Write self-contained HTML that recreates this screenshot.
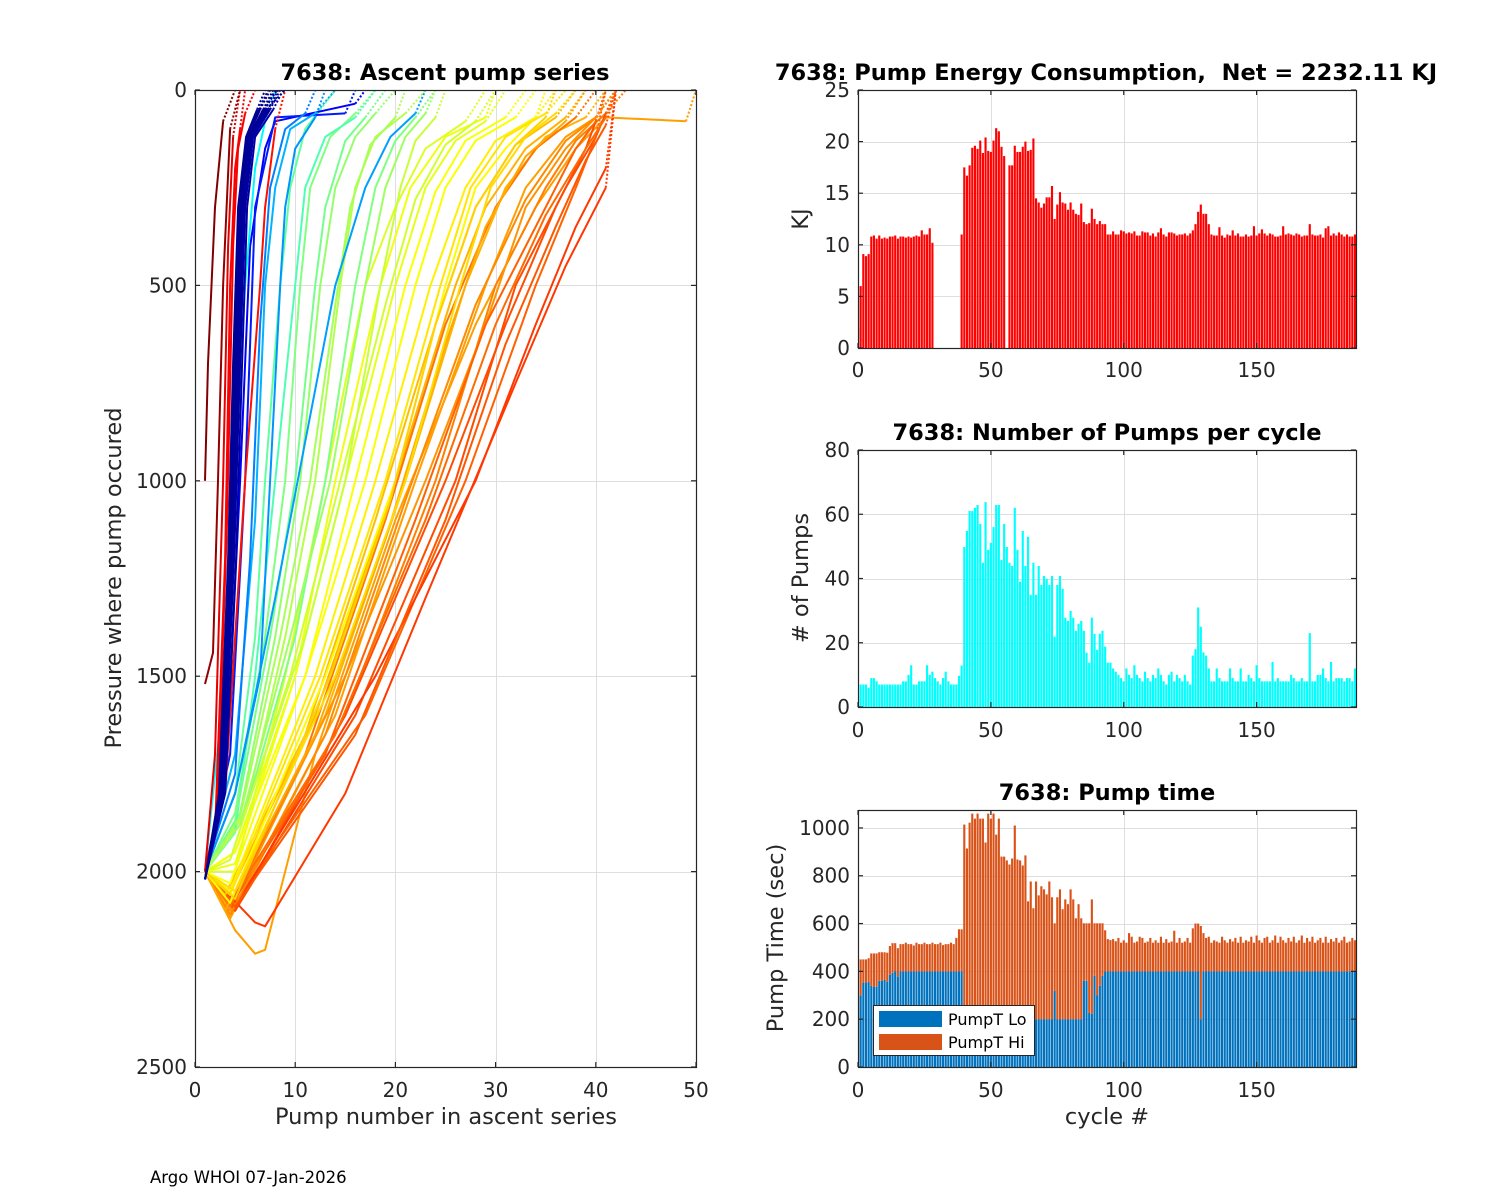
<!DOCTYPE html>
<html><head><meta charset="utf-8"><style>
html,body{margin:0;padding:0;background:#fff;}
svg{display:block;font-family:"DejaVu Sans","Liberation Sans",sans-serif;}
</style></head><body>
<svg id="fig" width="1500" height="1200" viewBox="0 0 1500 1200" xmlns="http://www.w3.org/2000/svg">
<rect x="0" y="0" width="1500" height="1200" fill="#fff"/>
<defs>
<clipPath id="clipL"><rect x="195" y="90" width="501" height="977"/></clipPath>
<clipPath id="clipR1"><rect x="858" y="90" width="498" height="258"/></clipPath>
<clipPath id="clipR2"><rect x="858" y="450" width="498" height="257"/></clipPath>
<clipPath id="clipR3"><rect x="858" y="810" width="498" height="257"/></clipPath>
</defs>
<text x="150" y="1183" font-size="16.5" fill="#000">Argo WHOI 07-Jan-2026</text>
</svg>
<script>
// ---------- DATA ----------
const cycles = Array.from({length:188},(_,i)=>i);
const energyKJ = [2,6,9.1,8.9,9.1,10.8,10.9,10.6,10.9,10.6,10.7,10.6,10.8,10.8,10.9,10.6,10.8,10.8,10.7,10.8,10.7,10.8,10.9,10.8,11.4,11,11,11.6,10.2,
0,0,0,0,0,0,0,0,0,0,
11,17.5,16.7,17.7,19.4,19.6,19.3,20.1,18.9,20.4,19.1,19,20.1,21.3,21,19.5,18.6,
0,
17.7,17.7,19.6,19,19,19.5,20,19.1,19.2,20.3,
14.5,14.1,13.6,14,14.6,14.6,15.7,12.5,13.9,15.1,14.1,14,13.4,14.1,13.4,13,12.9,14,12.2,12,12.1,13.5,12.5,12,12.3,12,12,11,11,11.3,11,11,11.4,11.3,11.1,11.2,11.1,11.3,10.9,10.9,11.3,11.2,11.2,10.9,11.1,10.8,11.2,11.6,11,10.8,11.2,11.2,11.1,10.9,
11,11,
11.1,10.9,11.1,11.4,12,13.2,13.9,13,13,12,11,10.9,10.9,11.7,10.9,10.7,11,10.9,11.4,10.9,11.1,10.8,10.8,11,10.8,10.9,11.8,10.9,11.1,11.5,11.1,10.9,11.1,11,10.8,10.8,10.9,11.8,11,11.1,11,10.9,11.1,11,10.8,10.9,10.9,12,11,10.9,10.9,11,10.7,11.6,11.8,10.9,11.1,10.9,11.2,11,10.8,11,10.8,10.8,11];
const pumpCount = [4,7,7,7,6,9,9,8,7,7,7,7,7,7,7,7,7,8,8,10,13,7,7,8,8,8,13,10,11,9,8,7,9,11,8,7,7,7,
9.7,12.9,49.8,54.8,61,61,62,62.9,57,44.9,63.8,48.9,51.1,56,62.9,62.9,45.8,57,49.8,44.9,43.9,62,48.9,39,54.8,43.9,53,34.9,44.9,34.9,43.9,38,40.8,39.9,38,40.8,21.9,38,40.8,36.8,27.8,26.8,29.9,27.8,23.7,25.9,26.8,23.7,16.9,13.8,27.8,22.8,17.8,22.8,23.7,18.8,13.8,13.8,12,11,
10,9,8,12,10,9,13,10,9,8,11,9,8,10,9,12,10,8,7,10,11,8,10,9,8,10,8,7,16,18,
31,25,17,16,12,8,8,12,9,8,8,8,12,9,8,8,12,8,8,10,9,8,13,9,8,8,8,8,14,8,
9,8,8,8,8,10,9,8,8,9,8,8,23,8,8,10,10,12,9,8,14,8,9,9,9,8,9,9,8,12];
const pumpTimeTotal = [300,450,450,450,455,475,475,475,480,480,480,478,506,518,518,497,514,514,520,514,514,508,520,514,514,520,514,514,520,514,514,520,510,514,514,520,514,540,576,576,
1014,914,1022,1060,1039,1060,1039,1039,939,1060,1039,1060,972,1039,880,880,864,847,872,1010,868,864,843,885,693,776,664,776,718,756,743,722,776,710,601,710,743,660,701,681,743,701,622,681,622,601,601,601,701,601,601,601,601,572,535,531,535,526,
540,520,530,520,560,545,520,525,545,540,
520,525,540,520,530,520,545,520,535,520,
525,570,520,540,520,525,540,520,580,600,
600,590,560,540,545,520,530,525,520,545,
530,520,535,525,540,520,545,520,530,525,
545,520,550,530,520,540,545,520,530,550,
520,545,530,520,540,525,545,520,530,550,
520,540,525,545,520,530,540,520,545,520,
535,525,540,520,530,545,520,525,540,530,
540,520,545,530];
const pumpTimeLo = [240,300,353,353,357,340,336,336,361,361,
364,357,386,394,401,378,400,400,400,400,
400,400,400,400,400,400,400,400,400,400,
400,400,400,400,400,400,400,400,400,400,
200,200,200,200,200,200,200,200,200,200,
200,200,200,200,200,200,200,200,200,200,
200,200,200,200,200,200,200,200,200,200,
200,200,200,200,318,200,200,200,200,200,
200,200,200,200,200,361,361,226,222,382,
299,340,382,400,400,400,400,400,
400,400,400,400,400,400,400,400,400,400,
400,400,400,400,400,400,400,400,400,400,
400,400,400,400,400,400,400,400,400,400,
400,200,400,400,400,400,400,400,400,400,
400,400,400,400,400,400,400,400,400,400,
400,400,400,400,400,400,400,400,400,400,
400,400,400,400,400,400,400,400,400,400,
400,400,400,400,400,400,400,400,400,400,
400,400,400,400,400,400,400,400,400,400];
const pumpTimeHi = pumpTimeTotal.map((t,i)=>Math.max(0,t-(pumpTimeLo[i]||0)));

// ascent curves: jet colour value and [pump, pressure] points (last point reached by dotted segment)
const curveColor = [0.72,0.7,0.72,0.75,0.73,0.7,0.8,0.78,0.82,0.8,0.78,0.82,0.76,0.74,0.71,0.77,0.79,0.69,
 0.6,0.62,0.64,0.63,0.66,0.59,0.61,0.65,0.62,0.67,0.58,
 0.47,0.5,0.52,0.55,0.5,0.57,0.45,0.53,0.49,0.54,
 0.12,0.15,0.3,0.28,0.27,0.37,0.25,
 0.88,0.88,0.86,0.9,
 0.02,0.02,0.03,0.02,0.04,0.02,0.03,0.02,0.02,0.03,
 0.98,1.0];
const curvePoints = [
 [[1,2000],[4,2150],[6,2210],[7,2200],[12,1700],[20,1100],[28,600],[34,300],[38,150],[41,70],[45,75],[49,80],[50,0]],
 [[1,2000],[3,2100],[13,1600],[21,1000],[27,500],[31,250],[35,120],[39,70],[41,0]],
 [[1,2000],[3.5,2120],[14,1600],[22,1000],[29,500],[33,250],[37,120],[40,70],[42,0]],
 [[1,2000],[4,2100],[15,1600],[24,1000],[30,500],[35,250],[38,130],[41,60],[43,0]],
 [[1,2000],[3.5,2100],[15,1500],[23,1000],[29,600],[33,300],[37,150],[40,70],[42,0]],
 [[1,2000],[3,2080],[12,1600],[20,1000],[26,500],[29,300],[33,150],[37,70],[39,0]],
 [[1,2000],[4,2100],[16,1600],[26,1000],[32,500],[37,250],[40,120],[41,60],[42,0]],
 [[1,2000],[4,2080],[17,1600],[27,1000],[34,500],[38,250],[40,120],[41,0]],
 [[1,2000],[3,2050],[6,2130],[7,2140],[15,1800],[23,1300],[32,750],[37,450],[41,250],[42,0]],
 [[1,2000],[4,2100],[15,1600],[25,1000],[31,600],[36,300],[39,150],[40,80],[41,0]],
 [[1,2000],[4,2070],[13,1700],[22,1100],[29,600],[35,300],[38,150],[40,80],[41,0]],
 [[1,2000],[4,2090],[18,1500],[28,1000],[34,600],[38,350],[41,200],[42,0]],
 [[1,2000],[3.5,2090],[11,1700],[19,1100],[25,600],[30,300],[34,150],[38,70],[40,0]],
 [[1,2000],[3.5,2110],[13,1650],[21,1050],[28,550],[33,280],[37,130],[40,70],[42,0]],
 [[1,2000],[3,2100],[12,1650],[19,1150],[25,650],[29,350],[33,170],[37,80],[39,0]],
 [[1,2000],[3.5,2080],[14,1650],[23,1100],[30,600],[35,320],[39,150],[41,70],[42,0]],
 [[1,2000],[4,2090],[16,1650],[25,1100],[31,650],[36,350],[39,180],[41,90],[42,0]],
 [[1,2000],[3,2060],[11,1650],[18,1100],[24,600],[28,300],[32,140],[36,70],[38,0]],
 [[1,2000],[4,1950],[10,1500],[15,1000],[20,500],[23,250],[26,130],[29,80],[31,0]],
 [[1,2000],[4,1950],[11,1500],[17,1000],[22,500],[25,250],[28,130],[32,70],[34,0]],
 [[1,2000],[3.5,2050],[12,1500],[18,1000],[23.5,500],[27,250],[30,130],[34,70],[36,0]],
 [[1,2000],[3.5,2080],[13,1500],[20,1000],[25,500],[28,250],[31,150],[34,70],[35,0]],
 [[1,2000],[4,2050],[14,1500],[21,1000],[26.5,500],[29.5,250],[33,120],[36,60],[38,0]],
 [[1,2000],[4,2000],[9,1500],[13,1000],[17,500],[20,300],[23,150],[27,80],[29,0]],
 [[1,2000],[4,1980],[10,1500],[14,1000],[18.5,500],[21.5,250],[25,120],[29,70],[30,0]],
 [[1,2000],[3.5,2060],[12.5,1500],[19,1000],[24.5,500],[27.5,250],[31,120],[35,60],[37,0]],
 [[1,2000],[3.5,2030],[11,1500],[16,1000],[21,500],[24,260],[27,130],[31,70],[33,0]],
 [[1,2000],[4,2070],[13.5,1500],[19.5,1050],[24,600],[28,300],[32,140],[35,70],[36,0]],
 [[1,2000],[3.5,1970],[9.5,1500],[14,1050],[19,550],[22,280],[25,140],[28,80],[30,0]],
 [[1,2000],[4,1800],[6,1400],[7,1000],[8.5,500],[9.5,250],[11,100],[12.5,50],[14,0]],
 [[1,2000],[4,1850],[7,1400],[9,1000],[10.5,500],[11.5,250],[13.5,120],[16,60],[18,0]],
 [[1,2000],[4.5,1850],[8,1400],[10.5,1000],[12.5,500],[14,250],[16,120],[18,60],[20,0]],
 [[1,2000],[5,1850],[9,1400],[12,1000],[14.5,500],[16,250],[18,120],[21,60],[23,0]],
 [[1,2000],[5,1850],[10,1400],[13,1000],[16,500],[18,250],[20,130],[22,70],[24,0]],
 [[1,2000],[5,1850],[11,1400],[15,1000],[18.5,500],[20.5,250],[22,130],[24,70],[25,0]],
 [[1,2000],[4,1900],[6,1500],[8,1000],[10,500],[11,250],[13,120],[16,70],[18,0]],
 [[1,2000],[4.5,1880],[9.5,1400],[13.5,1000],[17,500],[19,250],[21,120],[23,60],[24,0]],
 [[1,2000],[4,1870],[7.5,1400],[10,1000],[12,500],[13,300],[15,130],[17,70],[19,0]],
 [[1,2000],[4.5,1860],[8.5,1400],[11.5,1000],[14,550],[15.5,300],[17.5,140],[20,70],[21,0]],
 [[1,2000],[3,1800],[4.5,1000],[5.5,400],[7,150],[8,80],[16,35],[17,0]],
 [[1,2000],[3.5,1700],[5,1000],[6,300],[8,70],[15,60],[16,0]],
 [[1,2000],[4,1700],[6,1100],[7,500],[8,250],[9.5,100],[12,60],[14,0]],
 [[1,2000],[4,1800],[8,1300],[11,900],[14,500],[17,250],[19.5,120],[22,60],[23,0]],
 [[1,2000],[4,1800],[6.5,1500],[7.5,1000],[8.5,500],[9,300],[10,150],[12,70],[13,0]],
 [[1,2000],[3,1500],[4,1000],[5,500],[6,200],[7,80],[8,0]],
 [[1,2000],[4,1750],[5.5,1200],[6.5,600],[7.5,250],[9,100],[11,60],[12,0]],
 [[1,2000],[2,1900],[3,1200],[3.5,500],[4,200],[4.5,100],[5,0]],
 [[1,2000],[2.2,1850],[3.2,1100],[3.8,400],[4.3,150],[5,60],[6,0]],
 [[1,2000],[3,1800],[5,1000],[6.5,500],[7,300],[8,100],[9,0]],
 [[1,2000],[2,1700],[2.8,1000],[3.3,400],[3.8,120],[4.5,0]],
 [[1,2020],[2.5,1800],[3.5,1200],[4,700],[4.5,300],[5.3,120],[6.5,50],[7.5,0]],
 [[1,2020],[2.7,1800],[3.7,1200],[4.2,700],[4.8,300],[5.6,120],[7,50],[8,0]],
 [[1,2020],[2.8,1800],[3.9,1200],[4.5,700],[5,300],[5.8,120],[7.5,50],[8.5,0]],
 [[1,2020],[2.4,1800],[3.3,1200],[3.8,700],[4.3,300],[5.1,120],[6.2,50],[7,0]],
 [[1,2020],[3,1800],[4.1,1200],[4.7,700],[5.2,300],[6,120],[7.8,50],[8.8,0]],
 [[1,2020],[2.6,1800],[3.6,1200],[4.1,700],[4.6,300],[5.4,120],[6.8,50],[7.8,0]],
 [[1,2020],[2.9,1800],[3.8,1200],[4.4,700],[4.9,300],[5.7,120],[7.3,50],[8.3,0]],
 [[1,2020],[2.5,1800],[3.4,1200],[3.9,700],[4.4,300],[5.2,120],[6.4,50],[7.3,0]],
 [[1,2020],[2.65,1800],[3.55,1200],[4.05,700],[4.55,300],[5.45,120],[6.9,50],[8.2,0]],
 [[1,2020],[2.75,1800],[3.75,1200],[4.3,700],[4.75,300],[5.65,120],[7.1,50],[9,0]],
 [[1,1520],[1.8,1440],[2.3,1000],[2.8,500],[3.5,100],[4.5,0]],
 [[1,1000],[1.3,700],[2,300],[2.8,80],[4,0]]
];
const leftXTicks = [0,10,20,30,40,50];
const leftYTicks = [0,500,1000,1500,2000,2500];
const cycleTicks = [0,50,100,150];
const energyTicks = [0,5,10,15,20,25];
const pumpTicks = [0,20,40,60,80];
const timeTicks = [0,200,400,600,800,1000];

// ---------- DRAWING ----------
const NS='http://www.w3.org/2000/svg';
const svg=document.getElementById('fig');
function mk(tag,attrs,parent){const e=document.createElementNS(NS,tag);for(const k in attrs)e.setAttribute(k,attrs[k]);(parent||svg).appendChild(e);return e;}
function jet(v){const c=t=>Math.round(255*Math.max(0,Math.min(1,t)));return `rgb(${c(1.5-Math.abs(4*v-3))},${c(1.5-Math.abs(4*v-2))},${c(1.5-Math.abs(4*v-1))})`;}

function axes(name,L,T,R,B,xmin,xmax,ymin,ymax,xticks,yticks,yRev,xGridTicks,yGridTicks){
  const sx=v=>L+(v-xmin)/(xmax-xmin)*(R-L);
  const sy=yRev?(v=>T+(v-ymin)/(ymax-ymin)*(B-T)):(v=>B-(v-ymin)/(ymax-ymin)*(B-T));
  const g=mk('g',{});
  
  
  mk('rect',{x:L,y:T,width:R-L,height:B-T,fill:'#fff'},g);
  const grid=mk('g',{stroke:'#dedede','stroke-width':1},g);
  
  
  xGridTicks.forEach(t=>{const x=Math.round(sx(t))+0.5;mk('line',{x1:x,x2:x,y1:T,y2:B},grid);});
  yGridTicks.forEach(t=>{const y=Math.round(sy(t))+0.5;mk('line',{x1:L,x2:R,y1:y,y2:y},grid);});
  return {sx,sy,g,L,T,R,B,xticks,yticks,name};
}
function frame(a,xLabelY){
  const f=mk('g',{stroke:'#262626','stroke-width':1.2,fill:'none'});
  
  
  mk('rect',{x:a.L+0.5,y:a.T+0.5,width:a.R-a.L,height:a.B-a.T},f);
  const tl=mk('g',{'font-size':20,fill:'#262626'});
  
  
  a.xticks.forEach(t=>{const x=a.sx(t);
    mk('line',{x1:x,x2:x,y1:a.B,y2:a.B-5},f);mk('line',{x1:x,x2:x,y1:a.T,y2:a.T+5},f);
    const tx=mk('text',{x:x,y:xLabelY,'text-anchor':'middle'},tl);tx.textContent=t;
    
    });
  a.yticks.forEach(t=>{const y=a.sy(t);
    mk('line',{x1:a.L,x2:a.L+5,y1:y,y2:y},f);mk('line',{x1:a.R,x2:a.R-5,y1:y,y2:y},f);
    const ty=mk('text',{x:a.L-8,y:y+7,'text-anchor':'end'},tl);ty.textContent=t;
    
    });
}
function label(txt,x,y,size,bold,rot,name){
  const t=mk('text',{x:x,y:y,'text-anchor':'middle','font-size':size,fill:bold?'#000':'#262626','font-weight':bold?'bold':'normal'});
  t.setAttribute('style','white-space:pre');
  if(rot)t.setAttribute('transform',`rotate(-90 ${x} ${y})`);
  t.textContent=txt;
  
  
}

// Left: ascent pump series
const A=axes('ascent',195,90,696,1067,0,50,0,2500,leftXTicks,leftYTicks,true,[10,20,30,40],[500,1000,1500,2000]);
const cg=mk('g',{'clip-path':'url(#clipL)',fill:'none','stroke-linejoin':'round'});


curvePoints.forEach((pts,i)=>{
  const col=jet(curveColor[i]);
  const solid=pts.slice(0,pts.length-1).map(p=>A.sx(p[0]).toFixed(1)+','+A.sy(p[1]).toFixed(1)).join(' ');
  const pl=mk('polyline',{points:solid,stroke:col,'stroke-width':2},cg);
  
  
  const a=pts[pts.length-2],b=pts[pts.length-1];
  const dl=mk('line',{x1:A.sx(a[0]),y1:A.sy(a[1]),x2:A.sx(b[0]),y2:A.sy(b[1]),stroke:col,'stroke-width':2,'stroke-dasharray':'2,2'},cg);
  
  
});
frame(A,1097);
label('7638: Ascent pump series',445,80,22.5,true,false,'ascent-title');
label('Pump number in ascent series',446,1124,22.5,false,false,'ascent-x-axis-title');
label('Pressure where pump occured',121,578,22.5,false,true,'ascent-y-axis-title');

// bar helper
const XMAX=187.4;
function bars(a,vals,base,color,clip,name){
  const g=mk('g',{'clip-path':`url(#${clip})`,fill:color});
  
  
  const w=(a.sx(1)-a.sx(0))*0.8;
  vals.forEach((v,i)=>{
    const b0=base?(base[i]||0):0;
    if(!(v>0))return;
    const y1=a.sy(b0+v),y0=a.sy(b0);
    const r=mk('rect',{x:(a.sx(cycles[i])-w/2).toFixed(2),y:y1.toFixed(2),width:w.toFixed(2),height:(y0-y1).toFixed(2)},g);
    
    
  });
}

// Energy
const E=axes('energy',858,90,1356,348,0,XMAX,0,25,cycleTicks,energyTicks,false,[50,100,150],[5,10,15,20]);
bars(E,energyKJ,null,'#ff0000','clipR1','energy-bars');
frame(E,377);
label('7638: Pump Energy Consumption,  Net = 2232.11 KJ',1106,80,22.5,true,false,'energy-title');
label('KJ',808,219,22.5,false,true,'energy-y-axis-title');

// Pumps
const P=axes('pumps',858,450,1356,707,0,XMAX,0,80,cycleTicks,pumpTicks,false,[50,100,150],[20,40,60]);
bars(P,pumpCount,null,'#00ffff','clipR2','pump-count-bars');
frame(P,737);
label('7638: Number of Pumps per cycle',1107,440,22.5,true,false,'pumps-title');
label('# of Pumps',808,578,22.5,false,true,'pumps-y-axis-title');

// Pump time
const Q=axes('pumptime',858,810,1356,1067,0,XMAX,0,1075,cycleTicks,timeTicks,false,[50,100,150],[200,400,600,800,1000]);
bars(Q,pumpTimeLo,null,'#0072bd','clipR3','pumpt-lo-bars');
bars(Q,pumpTimeHi,pumpTimeLo,'#d95319','clipR3','pumpt-hi-bars');
frame(Q,1097);
label('7638: Pump time',1107,800,22.5,true,false,'pumptime-title');
label('cycle #',1107,1124,22.5,false,false,'pumptime-x-axis-title');
label('Pump Time (sec)',783,938,22.5,false,true,'pumptime-y-axis-title');

// legend
const lg=mk('g',{});


mk('rect',{x:873.5,y:1005.5,width:161,height:50,fill:'#fff',stroke:'#262626','stroke-width':1},lg);
const e1=mk('rect',{x:879,y:1011,width:63,height:16,fill:'#0072bd'},lg);


const e2=mk('rect',{x:879,y:1034,width:63,height:16,fill:'#d95319'},lg);


const t1=mk('text',{x:948,y:1025,'font-size':16,fill:'#000'},lg);t1.textContent='PumpT Lo';


const t2=mk('text',{x:948,y:1048,'font-size':16,fill:'#000'},lg);t2.textContent='PumpT Hi';


</script>
</body></html>
